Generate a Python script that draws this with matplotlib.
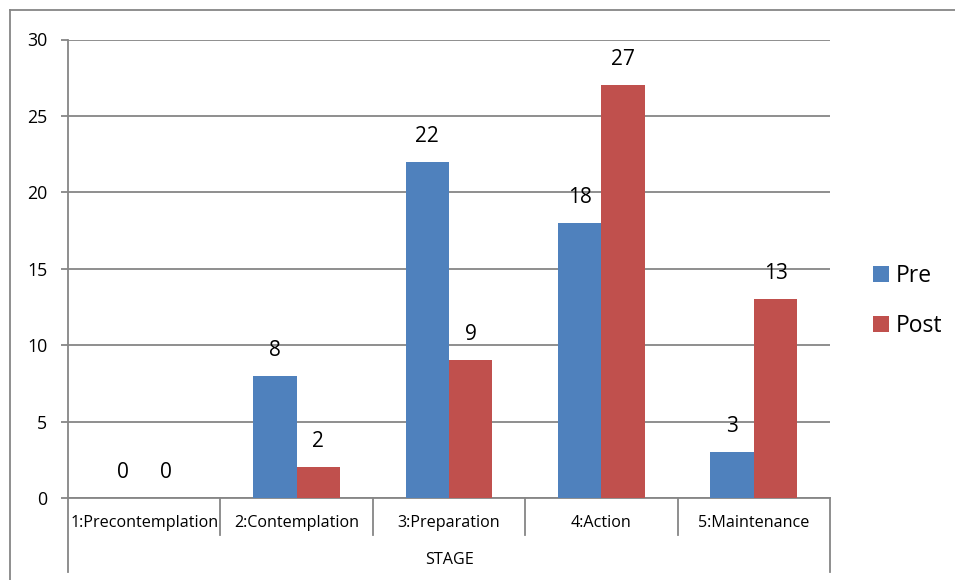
import numpy as np
import matplotlib.pyplot as plt
from matplotlib.lines import Line2D

# stage of change counts, before and after
stages = ['1:Precontemplation', '2:Contemplation', '3:Preparation',
          '4:Action', '5:Maintenance']
pre = [0, 8, 22, 18, 3]
post = [0, 2, 9, 27, 13]
yticks = [0, 5, 10, 15, 20, 25, 30]

BLUE = '#4F81BD'
RED = '#C0504D'
GRID = '#868686'

plt.rcParams['font.family'] = ['Open Sans', 'DejaVu Sans']

W, H = 955, 580
fig = plt.figure(figsize=(W / 100, H / 100), dpi=100)

# plot area in pixel coords
left, right, top, bottom = 68, 830, 39.5, 498
ax = fig.add_axes([left / W, 1 - bottom / H, (right - left) / W, (bottom - top) / H])

x = np.arange(len(stages)) + 0.5
bw = 0.285
b1 = ax.bar(x - bw / 2, pre, bw, color=BLUE, label='Pre', zorder=3)
b2 = ax.bar(x + bw / 2, post, bw, color=RED, label='Post', zorder=3)

for bars, vals in ((b1, pre), (b2, post)):
    for rect, v in zip(bars, vals):
        ax.annotate(str(v), (rect.get_x() + rect.get_width() / 2, v),
                    xytext=(0, 18.5), textcoords='offset points',
                    ha='center', va='center', fontsize=15, color='black')

ax.set_xlim(0, len(stages))
ax.set_ylim(0, 30)
ax.set_yticks(yticks)
ax.set_yticklabels([str(t) for t in yticks], fontsize=12.8)
ax.yaxis.grid(True, color=GRID, linewidth=1.3, zorder=0)
ax.set_xticks([])
ax.tick_params(axis='y', length=5, width=1.3, color=GRID, pad=10)

for s in ['top', 'right']:
    ax.spines[s].set_visible(False)
for s in ['left', 'bottom']:
    ax.spines[s].set_color(GRID)
    ax.spines[s].set_linewidth(1.3)

# category dividers below the axis, outer ones run down past the title row
trans = ax.get_xaxis_transform()
px = 1.0 / (bottom - top)
for i in range(len(stages) + 1):
    depth = 74 if i in (0, len(stages)) else 37
    ax.add_line(Line2D([i, i], [0, -depth * px], transform=trans,
                       color=GRID, linewidth=1.3, clip_on=False))

for xi, name in zip(x, stages):
    ax.text(xi, -25 * px, name, transform=trans, ha='center', va='center',
            fontsize=11.6)
ax.text(2.5, -62 * px, 'STAGE', transform=trans, ha='center', va='center',
        fontsize=11.6)

leg = fig.legend(handles=[b1, b2], loc='upper left',
                 bbox_to_anchor=(873 / W, 1 - 264 / H), frameon=False,
                 fontsize=16.5, handlelength=0.7, handleheight=0.7,
                 handletextpad=0.3, labelspacing=1.15,
                 borderpad=0, borderaxespad=0)

# outer chart border (left and top edges)
fig.add_artist(Line2D([9.5 / W, 9.5 / W], [0, 1 - 10 / H], color=GRID, linewidth=1.3))
fig.add_artist(Line2D([9.5 / W, 1], [1 - 10 / H, 1 - 10 / H], color=GRID, linewidth=1.3))

fig.savefig('out.png', dpi=100)
